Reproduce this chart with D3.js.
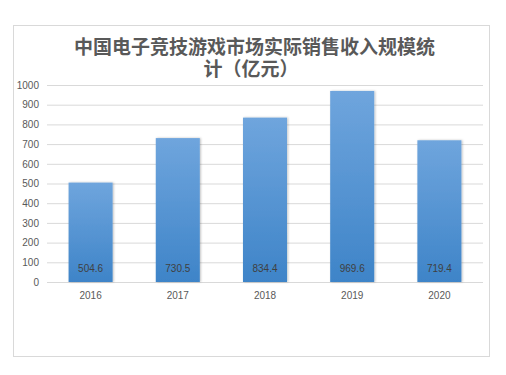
<!DOCTYPE html>
<html><head><meta charset="utf-8">
<script src="https://cdn.jsdelivr.net/npm/d3@7/dist/d3.min.js"></script>
<style>body{margin:0;background:#fff}</style>
</head><body>
<script>
const categories = ["2016","2017","2018","2019","2020"];
const values = [504.6,730.5,834.4,969.6,719.4];
const yTicks = [0,100,200,300,400,500,600,700,800,900,1000];
const title = ["中国电子竞技游戏市场实际销售收入规模统","计（亿元）"];

const W=506,H=375;
const svg=d3.select("body").append("svg").attr("width",W).attr("height",H);
const defs=svg.append("defs");
const g=defs.append("linearGradient").attr("id","bg").attr("x1",0).attr("y1",0).attr("x2",0).attr("y2",1);
g.append("stop").attr("offset","0%").attr("stop-color","#6fa5dd");
g.append("stop").attr("offset","100%").attr("stop-color","#3e84c8");
const f=defs.append("filter").attr("id","sh").attr("x","-20%").attr("y","-5%").attr("width","140%").attr("height","110%");
f.append("feDropShadow").attr("dx",1).attr("dy",0).attr("stdDeviation",1.2).attr("flood-color","#000").attr("flood-opacity",0.25);

svg.append("rect").attr("x",13.5).attr("y",25.5).attr("width",476).attr("height",331).attr("fill","#fff").attr("stroke","#d9d9d9");

const x=d3.scaleBand().domain(categories).range([47,483]).paddingInner(0.495).paddingOuter(0.2475);
const y=d3.scaleLinear().domain([0,1000]).range([282,85]);

const yAxis=svg.append("g").attr("transform","translate(47,0)")
 .call(d3.axisLeft(y).tickValues(yTicks).tickFormat(d3.format("d")).tickSize(-436).tickPadding(8));
yAxis.select(".domain").remove();
yAxis.selectAll("line").attr("stroke","#d9d9d9");
yAxis.selectAll("text").attr("fill","#595959").style("font-family","Liberation Sans, Arial, sans-serif").style("font-size","10px");

svg.append("g").selectAll("rect").data(values).join("rect")
 .attr("x",(d,i)=>x(categories[i])).attr("width",x.bandwidth())
 .attr("y",d=>y(d)).attr("height",d=>y(0)-y(d))
 .attr("fill","url(#bg)").attr("filter","url(#sh)");

svg.append("g").selectAll("text").data(values).join("text")
 .attr("x",(d,i)=>x(categories[i])+x.bandwidth()/2).attr("y",272)
 .attr("text-anchor","middle").attr("fill","#404040")
 .style("font-family","Liberation Sans, Arial, sans-serif").style("font-size","10px")
 .text(d=>d.toFixed(1));

const xAxis=svg.append("g").attr("transform","translate(0,282)").call(d3.axisBottom(x).tickSize(0).tickPadding(10));
xAxis.select(".domain").remove();
xAxis.selectAll("text").attr("fill","#595959").style("font-family","Liberation Sans, Arial, sans-serif").style("font-size","10px");

const tt=svg.append("text").attr("text-anchor","middle").attr("fill","#595959")
 .style("font-family","Noto Sans CJK SC").style("font-weight","bold").style("font-size","19px");
tt.selectAll("tspan").data(title).join("tspan")
 .attr("x",(d,i)=>i===0?254.5:251).attr("y",(d,i)=>54+i*21.5)
 .text(d=>d);
</script>
</body></html>
